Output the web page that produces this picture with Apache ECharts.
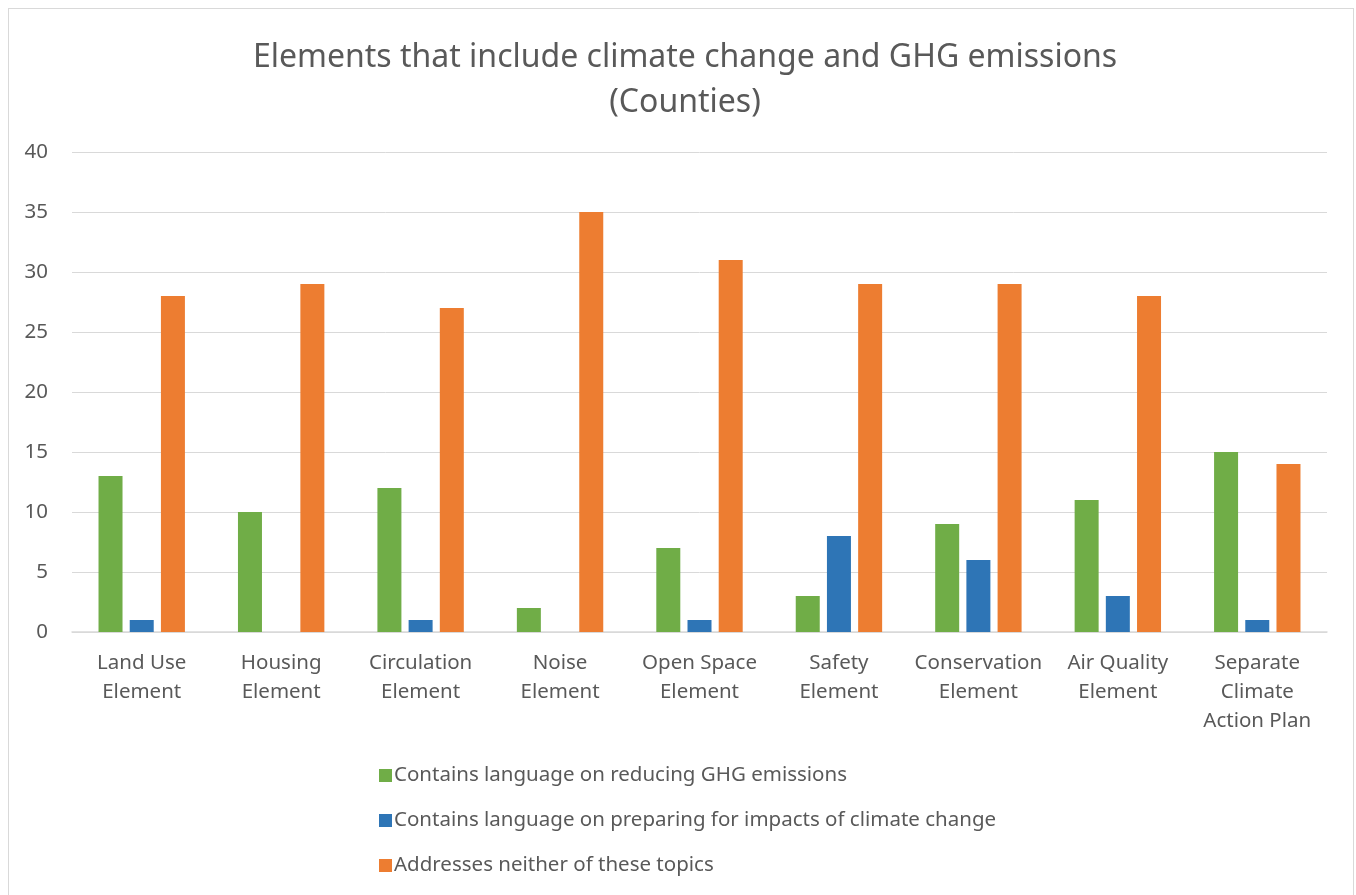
<!DOCTYPE html>
<html>
<head>
<meta charset="utf-8">
<script src="https://cdn.jsdelivr.net/npm/echarts@6/dist/echarts.min.js"></script>
<style>
  html, body { margin: 0; padding: 0; background: #fff; }
  #frame {
    position: absolute; left: 8px; top: 8px; width: 1346px; height: 890px;
    border: 1px solid #d9d9d9; box-sizing: border-box;
  }
  #chart { position: absolute; left: 0; top: 0; width: 1356px; height: 895px; }
</style>
</head>
<body>
<div id="frame"></div>
<div id="chart"></div>
<script>
// categories and values
const categories = [
  "Land Use\nElement", "Housing\nElement", "Circulation\nElement", "Noise\nElement",
  "Open Space\nElement", "Safety\nElement", "Conservation\nElement", "Air Quality\nElement",
  "Separate\nClimate\nAction Plan"
];
const seriesNames = [
  "Contains language on reducing GHG emissions",
  "Contains language on preparing for impacts of climate change",
  "Addresses neither of these topics"
];
const reducingGHG = [13, 10, 12, 2, 7, 3, 9, 11, 15];
const preparingImpacts = [1, 0, 1, 0, 1, 8, 6, 3, 1];
const neither = [28, 29, 27, 35, 31, 29, 29, 28, 14];
const yTicks = [0, 40, 5];

const font = "'Noto Sans', 'Open Sans', sans-serif";
const textColor = "#595959";
const colors = ["#70ad47", "#2e75b6", "#ed7d31"];

let myChart = echarts.init(document.getElementById("chart"));
let option = {
  animation: false,
  color: colors,
  title: {
    text: "Elements that include climate change and GHG emissions\n(Counties)",
    left: 680,
    textAlign: "center",
    top: 30,
    textStyle: { fontFamily: font, fontSize: 32, fontWeight: "normal", color: textColor, lineHeight: 45 }
  },
  grid: { left: 72, right: 29, top: 152, bottom: 263, containLabel: false },
  legend: {
    orient: "vertical",
    left: 374,
    top: 760,
    itemWidth: 13,
    itemHeight: 13,
    itemGap: 24,
    icon: "rect",
    data: seriesNames,
    textStyle: { fontFamily: font, fontSize: 20.5, color: textColor, padding: [0, 0, 0, -3] }
  },
  xAxis: {
    type: "category",
    data: categories,
    axisLine: { lineStyle: { color: "#d9d9d9", width: 1.5 } },
    axisTick: { show: false },
    axisLabel: { fontFamily: font, fontSize: 20.5, color: textColor, lineHeight: 29, margin: 17, interval: 0 }
  },
  yAxis: {
    type: "value",
    min: yTicks[0],
    max: yTicks[1],
    interval: yTicks[2],
    axisLine: { show: false },
    axisTick: { show: false },
    splitLine: { lineStyle: { color: "#d9d9d9", width: 1 } },
    axisLabel: { fontFamily: font, fontSize: 20.5, color: textColor, margin: 24 }
  },
  series: [
    { name: seriesNames[0], type: "bar", data: reducingGHG, barWidth: 24, barGap: "30%" },
    { name: seriesNames[1], type: "bar", data: preparingImpacts, barWidth: 24, barGap: "30%" },
    { name: seriesNames[2], type: "bar", data: neither, barWidth: 24, barGap: "30%" }
  ]
};
myChart.setOption(option);
window.addEventListener("resize", function () {
  myChart.resize();
});
</script>
</body>
</html>
